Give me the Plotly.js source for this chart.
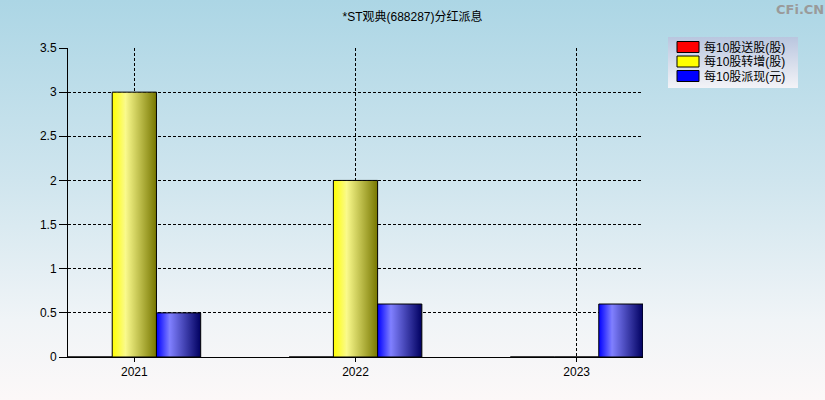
<!DOCTYPE html>
<html>
<head>
<meta charset="utf-8">
<script src="https://cdn.plot.ly/plotly-3.0.1.min.js"></script>
<style>
  html, body { margin: 0; padding: 0; }
  body {
    width: 825px; height: 400px;
    background: linear-gradient(to bottom, #acd6e5 0%, #cfe5ee 45%, #f0f4f7 80%, #fcf8f8 100%);
  }
  #chart { width: 825px; height: 400px; }
</style>
</head>
<body>
<div id="chart"></div>
<script>
// data
const years = ['2021', '2022', '2023'];
const songGu = [0, 0, 0];        // 每10股送股(股)
const zhuanZeng = [3, 2, 0];     // 每10股转增(股)
const paiXian = [0.5, 0.6, 0.6]; // 每10股派现(元)

const FONT = '"Liberation Sans", "Noto Sans CJK SC", sans-serif';

const traces = [
  { name: '每10股送股(股)', x: years, y: songGu, color: '#ff0000' },
  { name: '每10股转增(股)', x: years, y: zhuanZeng, color: '#ffff00' },
  { name: '每10股派现(元)', x: years, y: paiXian, color: '#0000ff' }
].map(t => ({
  type: 'bar',
  name: t.name,
  x: t.x,
  y: t.y,
  marker: { color: t.color, line: { color: '#000', width: 1 } },
  hoverinfo: 'none'
}));

const layout = {
  width: 825,
  height: 400,
  margin: { l: 68, r: 182, t: 48, b: 43 },
  paper_bgcolor: 'rgba(0,0,0,0)',
  plot_bgcolor: 'rgba(0,0,0,0)',
  font: { family: FONT, size: 12, color: '#000' },
  title: {
    text: '*ST观典(688287)分红派息',
    font: { family: FONT, size: 12, color: '#000' },
    x: 0.5, xref: 'container',
    y: 1 - 17 / 400, yref: 'container', yanchor: 'middle'
  },
  barmode: 'group',
  bargap: 0.4,
  bargroupgap: 0,
  showlegend: true,
  legend: {
    x: (668 - 68) / 575, y: (357 - 37) / 309, xanchor: 'left', yanchor: 'top',
    bgcolor: '#dfe4ee',
    borderwidth: 0,
    font: { family: FONT, size: 12, color: '#000' },
    tracegroupgap: 0
  },
  xaxis: {
    type: 'category',
    range: [-0.3, 2.3],
    showline: true, linecolor: '#000', linewidth: 1,
    ticks: 'outside', ticklen: 4, tickcolor: '#000',
    showgrid: true, gridcolor: '#000', gridwidth: 1, griddash: '3px,2px',
    zeroline: false,
    fixedrange: true
  },
  yaxis: {
    range: [0, 3.5],
    dtick: 0.5,
    showline: true, linecolor: '#000', linewidth: 1,
    ticks: 'outside', ticklen: 8, tickcolor: '#000',
    showgrid: true, gridcolor: '#000', gridwidth: 1, griddash: '3px,2px',
    zeroline: false,
    fixedrange: true
  },
  annotations: [{
    text: '<b>CFi.CN</b>',
    xref: 'paper', yref: 'paper',
    x: (800 - 68) / 575, y: (357 - 10) / 309,
    xanchor: 'center', yanchor: 'middle',
    showarrow: false,
    font: { family: '"DejaVu Sans", sans-serif', size: 13, color: '#9a9a9a' }
  }]
};

// shaded fills and compact legend like the original
function restyleSvg(gd) {
  const svg = gd.querySelector('svg.main-svg');
  const ns = 'http://www.w3.org/2000/svg';
  let defs = svg.querySelector('defs');
  if (!defs) { defs = document.createElementNS(ns, 'defs'); svg.prepend(defs); }

  function grad(id, stops, vertical) {
    const g = document.createElementNS(ns, 'linearGradient');
    g.setAttribute('id', id);
    g.setAttribute('x1', '0'); g.setAttribute('y1', '0');
    g.setAttribute('x2', vertical ? '0' : '1'); g.setAttribute('y2', vertical ? '1' : '0');
    stops.forEach(([off, col]) => {
      const s = document.createElementNS(ns, 'stop');
      s.setAttribute('offset', off);
      s.setAttribute('stop-color', col);
      g.appendChild(s);
    });
    defs.appendChild(g);
  }

  grad('gRed', [[0, '#ff0000'], [0.3, '#ff8080'], [1, '#700000']]);
  grad('gYellow', [[0, '#ffff00'], [0.3, '#fafa8c'], [1, '#777700']]);
  grad('gBlue', [[0, '#0000ff'], [0.3, '#8080ff'], [1, '#000060']]);
  grad('gLegend', [[0, '#b9c6df'], [1, '#f3f3f7']], true);

  const fills = ['url(#gRed)', 'url(#gYellow)', 'url(#gBlue)'];
  gd.querySelectorAll('.barlayer .trace').forEach((tr, i) => {
    tr.querySelectorAll('.point path').forEach(p => { p.style.fill = fills[i]; });
  });

  // legend: tighter rows, wide boxed swatches
  const bg = gd.querySelector('.legend rect.bg');
  if (bg) {
    bg.style.fill = 'url(#gLegend)';
    bg.setAttribute('height', 51);
    bg.setAttribute('width', 130);
  }
  gd.querySelectorAll('.legend .traces').forEach((g, i) => {
    g.setAttribute('transform', 'translate(0,' + (10 + i * 14.5) + ')');
    g.querySelectorAll('.legendpoints path').forEach(p => {
      p.setAttribute('d', 'M-11,-5.5H11V5.5H-11Z');
      p.setAttribute('transform', 'translate(20,0)');
      p.style.stroke = '#000';
      p.style.strokeWidth = '1px';
    });
    g.querySelectorAll('text.legendtext').forEach(t => t.setAttribute('x', 36));
  });
}

Plotly.newPlot('chart', traces, layout, { displayModeBar: false, staticPlot: true })
  .then(restyleSvg);
</script>
</body>
</html>
